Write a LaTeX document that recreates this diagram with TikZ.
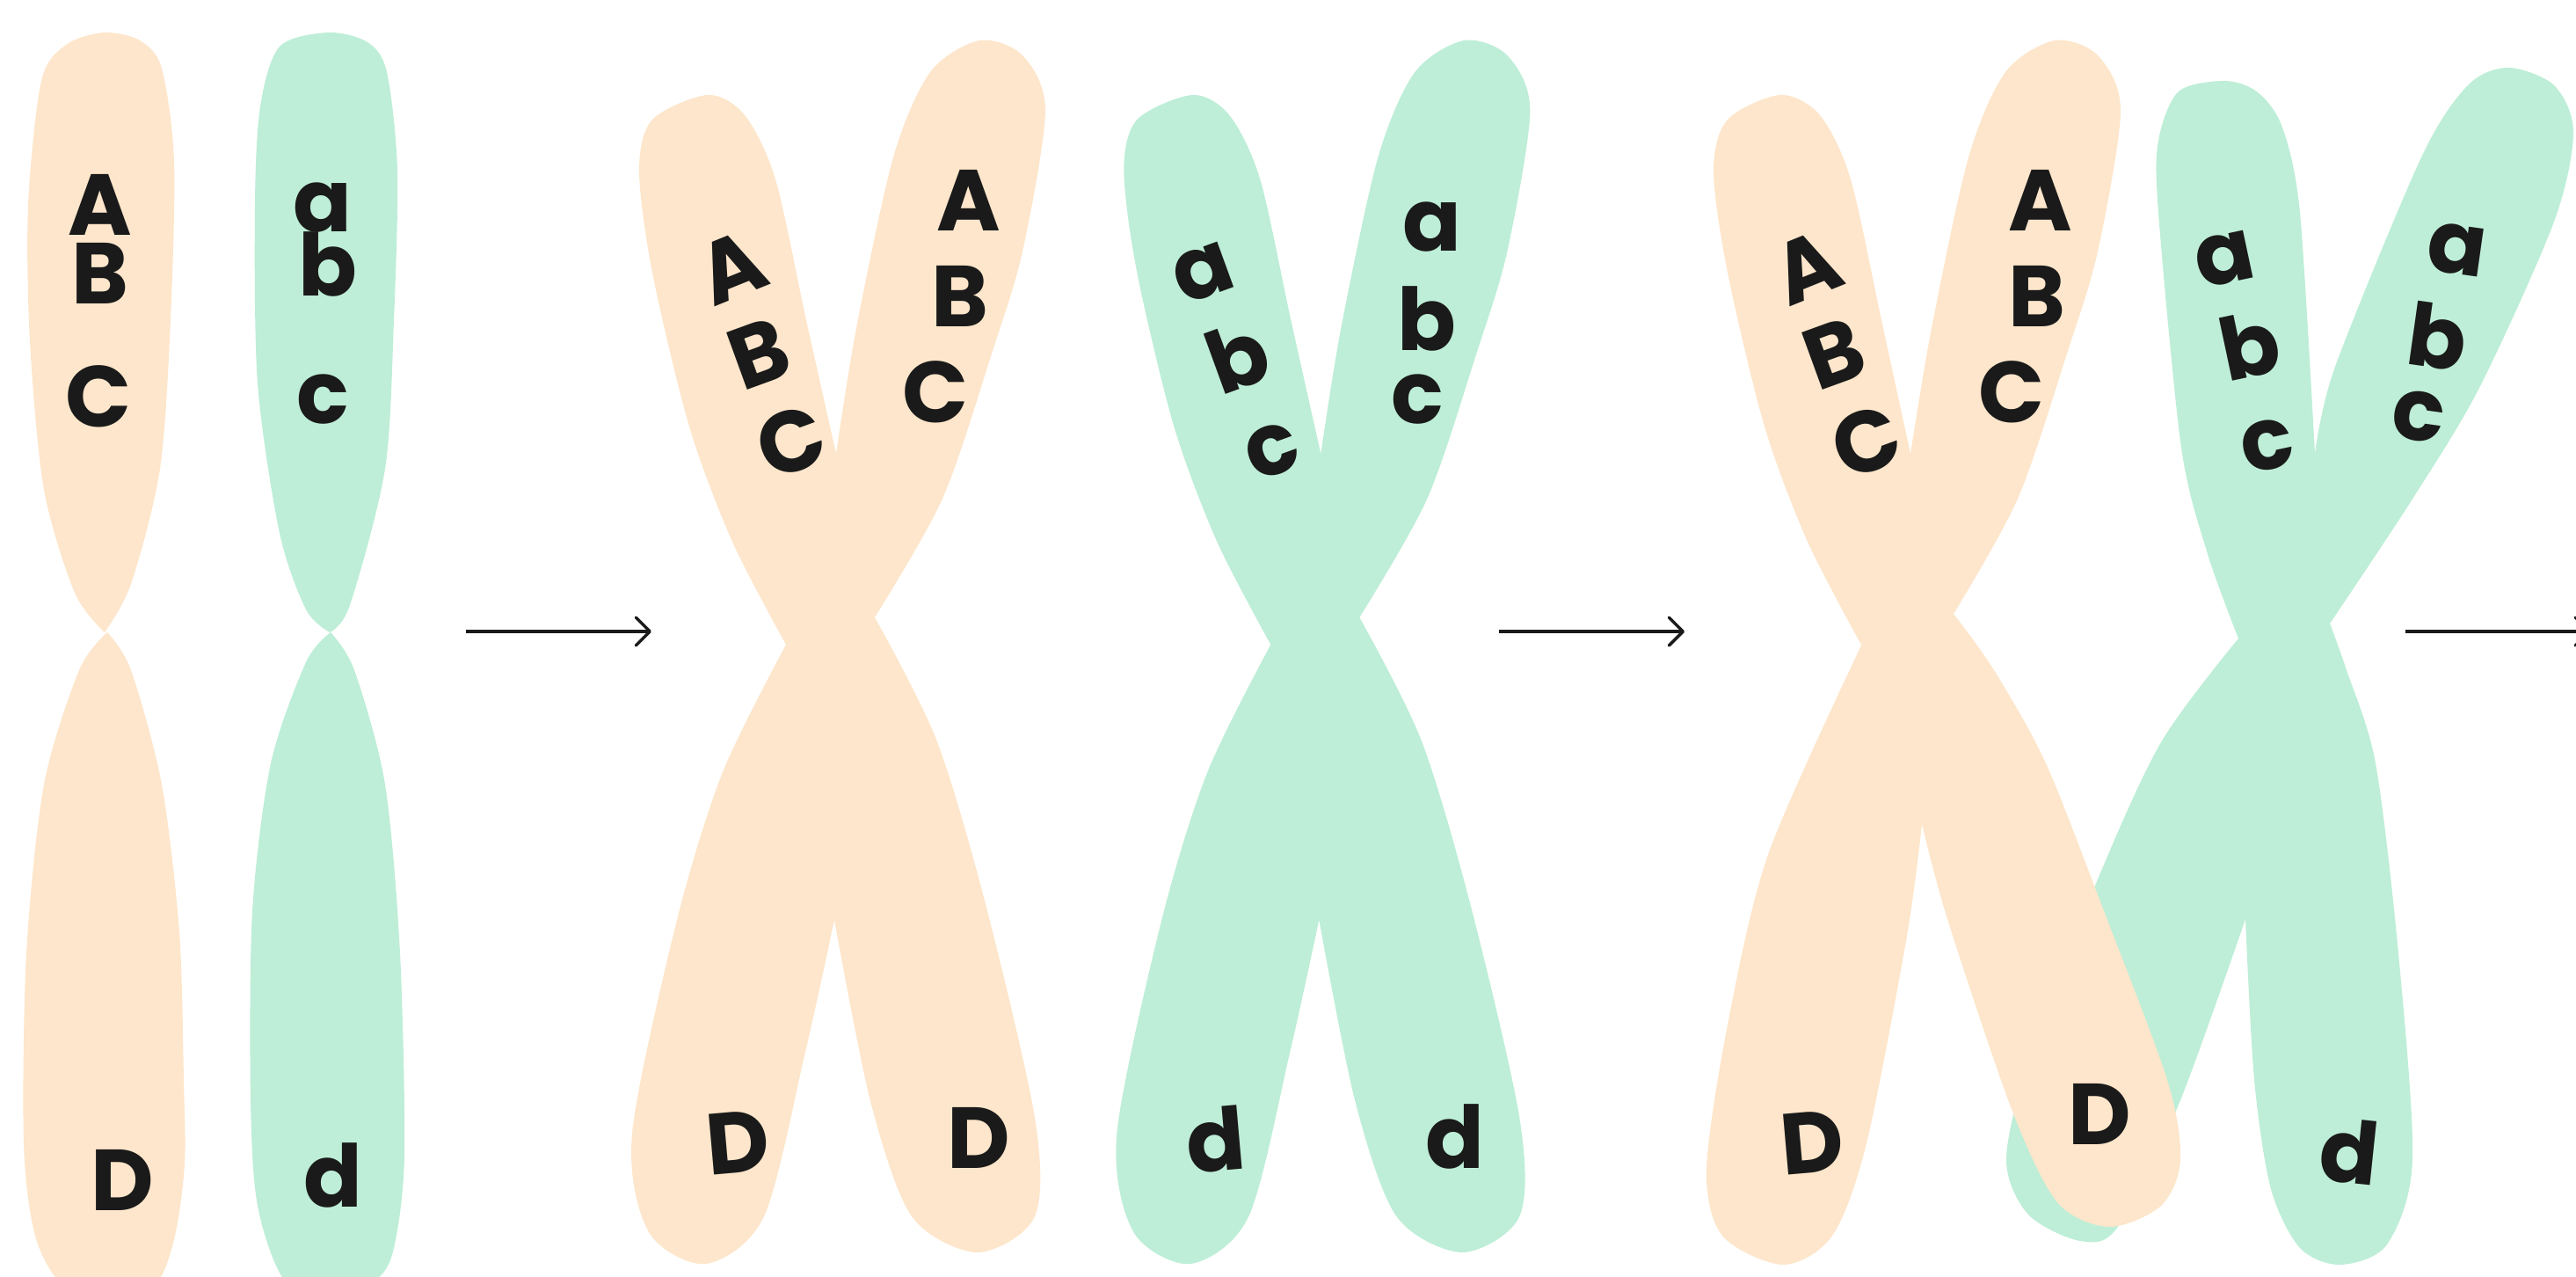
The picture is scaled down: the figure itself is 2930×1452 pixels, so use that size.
\documentclass[tikz,border=0pt]{standalone}
\usepackage{fontspec}
\setmainfont{Poppins}
\usetikzlibrary{arrows.meta}

% outline of the cross shape, four arms between the cusps
\newcommand{\crossoutline}{
    plot[smooth] coordinates {(894,733) (833,616) (784,485) (742,310) (727,194) (742,136) (805,108) (847,131) (882,204) (917,364) (951,516)}
    -- plot[smooth] coordinates {(951,516) (974,373) (1016,179) (1058,82) (1114,46) (1163,63) (1189,126) (1163,286) (1128,402) (1072,567) (995,702)}
    -- plot[smooth] coordinates {(995,702) (1065,841) (1121,1028) (1177,1271) (1177,1383) (1112,1424) (1037,1383) (990,1252) (949,1046)}
    -- plot[smooth] coordinates {(949,1046) (916,1196) (869,1383) (803,1437) (738,1401) (719,1289) (770,1046) (822,878) (894,733)}
    -- cycle
}

\begin{document}
\begin{tikzpicture}[x=0.01cm, y=-0.01cm]
    \definecolor{peach}{HTML}{FDE6CB}
    \definecolor{mint}{HTML}{BEEED7}
    \definecolor{ink}{HTML}{1A1A1A}
    \tikzset{gene/.style={font=\fontsize{28}{28}\selectfont\bfseries, text=ink, inner sep=0pt}}
    \tikzset{step arrow/.style={draw=ink, line width=0.35mm, -{Straight Barb[length=1.6mm, width=3.2mm, round]}}}

    \useasboundingbox (0,0) rectangle (2930,1452);

    % unreplicated pair
    \fill[peach] plot[smooth] coordinates {(119,719) (85,674) (50,557) (34,388) (32,233) (47,92) (75,51) (118,37) (159,46) (184,78) (198,184) (194,364) (182,533) (149,664) (119,719)};
    \fill[peach] plot[smooth] coordinates {(122,719) (90,762) (50,892) (30,1084) (27,1300) (40,1405) (70,1460) (122,1480) (177,1460) (199,1405) (210,1323) (209,1228) (204,1060) (184,892) (149,762) (122,719)};
    \fill[mint] plot[smooth] coordinates {(375,719) (348,693) (318,606) (293,436) (290,233) (296,121) (318,53) (373,37) (418,48) (440,82) (452,194) (448,364) (438,533) (398,688) (375,719)};
    \fill[mint] plot[smooth] coordinates {(376,719) (348,753) (308,868) (287,1036) (285,1251) (293,1371) (323,1455) (376,1480) (428,1455) (448,1419) (460,1314) (455,1084) (438,892) (403,762) (376,719)};

    \draw (114,233) node (A1) [gene] {A};
    \draw (114,311) node (B1) [gene] {B};
    \draw (112,451) node (C1) [gene] {C};
    \draw (139,1342) node (D1) [gene] {D};
    \draw (367,236) node (a1) [gene] {a};
    \draw (373,300) node (b1) [gene] {b};
    \draw (367,454) node (c1) [gene] {c};
    \draw (379,1336) node (d1) [gene] {d};

    % replicated pair
    \fill[peach] \crossoutline;
    \begin{scope}[xshift=5.51cm]
        \fill[mint] \crossoutline;
    \end{scope}

    \draw (832,304) node (A2) [gene, rotate=22] {A};
    \draw (863,402) node (B2) [gene, rotate=20] {B};
    \draw (900,502) node (C2) [gene, rotate=20] {C};
    \draw (1102,228) node (A3) [gene] {A};
    \draw (1092,337) node (B3) [gene] {B};
    \draw (1064,446) node (C3) [gene] {C};
    \draw (839,1299) node (D2) [gene, rotate=5] {D};
    \draw (1113,1294) node (D3) [gene] {D};

    \draw (1368,310) node (a2) [gene, rotate=20] {a};
    \draw (1408,405) node (b2) [gene, rotate=20] {b};
    \draw (1447,512) node (c2) [gene, rotate=20] {c};
    \draw (1629,258) node (a3) [gene] {a};
    \draw (1623,362) node (b3) [gene] {b};
    \draw (1612,454) node (c3) [gene] {c};
    \draw (1383,1296) node (d2) [gene, rotate=5] {d};
    \draw (1655,1292) node (d3) [gene] {d};

    % crossing over, mint goes first since peach lies on top of it
    \fill[mint] plot[smooth] coordinates {(2546,726) (2511,630) (2481,509) (2455,242) (2455,160) (2478,104) (2531,92) (2568,105) (2596,145) (2616,242) (2633,516)}
        -- plot[smooth] coordinates {(2633,516) (2656,417) (2754,179) (2807,97) (2853,77) (2905,97) (2927,150) (2905,252) (2820,441) (2741,572) (2650,709)}
        -- plot[smooth] coordinates {(2650,709) (2669,762) (2702,868) (2728,1084) (2744,1319) (2715,1415) (2662,1438) (2616,1419) (2583,1352) (2564,1228) (2554,1045)}
        -- plot[smooth] coordinates {(2554,1045) (2478,1256) (2409,1395) (2366,1411) (2307,1381) (2282,1319) (2307,1208) (2383,1007) (2458,844) (2546,726)}
        -- cycle;
    \fill[peach] plot[smooth] coordinates {(2117,733) (2056,616) (2007,485) (1965,310) (1949,194) (1965,136) (2025,108) (2070,131) (2105,204) (2140,364) (2173,516)}
        -- plot[smooth] coordinates {(2173,516) (2197,373) (2239,179) (2281,82) (2337,46) (2386,63) (2412,126) (2386,286) (2351,402) (2295,567) (2222,698)}
        -- plot[smooth] coordinates {(2222,698) (2268,762) (2327,868) (2393,1036) (2465,1228) (2480,1319) (2458,1371) (2399,1395) (2340,1367) (2288,1261) (2215,1045) (2186,937)}
        -- plot[smooth] coordinates {(2186,937) (2169,1064) (2123,1300) (2084,1405) (2028,1438) (1959,1405) (1941,1328) (1966,1160) (2012,969) (2117,734)}
        -- cycle;

    \draw (2055,304) node (A4) [gene, rotate=22] {A};
    \draw (2086,402) node (B4) [gene, rotate=20] {B};
    \draw (2123,502) node (C4) [gene, rotate=20] {C};
    \draw (2321,228) node (A5) [gene] {A};
    \draw (2317,337) node (B5) [gene] {B};
    \draw (2288,446) node (C5) [gene] {C};
    \draw (2061,1299) node (D4) [gene, rotate=5] {D};
    \draw (2388,1267) node (D5) [gene] {D};

    \draw (2530,295) node (a4) [gene, rotate=12] {a};
    \draw (2559,392) node (b4) [gene, rotate=12] {b};
    \draw (2579,506) node (c4) [gene, rotate=12] {c};
    \draw (2794,284) node (a5) [gene, rotate=-8] {a};
    \draw (2773,382) node (b5) [gene, rotate=-8] {b};
    \draw (2751,473) node (c5) [gene, rotate=-8] {c};
    \draw (2672,1309) node (d5) [gene, rotate=-6] {d};

    % arrows between the stages
    \coordinate (s1) at (530,718);
    \coordinate (e1) at (741,718);
    \coordinate (s2) at (1705,718);
    \coordinate (e2) at (1916,718);
    \coordinate (s3) at (2736,718);
    \coordinate (e3) at (2947,718);
    \draw[step arrow] (s1) -- (e1);
    \draw[step arrow] (s2) -- (e2);
    \draw[step arrow] (s3) -- (e3);
\end{tikzpicture}
\end{document}
